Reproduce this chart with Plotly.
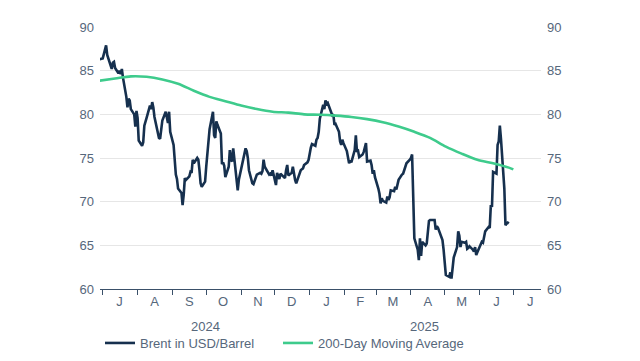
import pandas as pd
import plotly.graph_objects as go

# ---- Brent daily values (business days) ----
brent_jun24 = [86.3]
brent_jul24 = [86.4, 86.9, 87.5, 87.9, 86.8, 85.6, 85.2, 85.9, 86.0, 85.3, 84.7, 85.0, 84.6,
               85.2, 84.2, 82.0, 80.8, 81.8, 81.6, 80.6, 80.0, 78.6, 80.4]
brent_aug24 = [79.6, 77.0, 76.4, 76.8, 78.7, 79.3, 79.6, 81.0, 80.6, 81.4, 80.8, 79.7, 77.6,
               77.3, 77.2, 78.2, 79.3, 80.3, 79.4, 79.0, 80.3, 78.0]
brent_sep24 = [76.5, 74.0, 73.1, 72.6, 71.5, 71.0, 69.6, 70.8, 72.7, 72.5, 72.9, 73.4, 73.3,
               74.8, 74.4, 75.0, 74.8, 73.6, 72.1, 71.7, 72.3]
brent_oct24 = [74.0, 75.2, 77.0, 78.3, 80.3, 77.6, 77.3, 79.2, 78.8, 77.8, 74.3, 74.5, 74.1,
               72.8, 74.0, 75.9, 74.8, 74.6, 76.1, 72.0, 71.3, 72.5, 73.1]
brent_nov24 = [73.4, 75.3, 76.1, 75.8, 75.0, 73.6, 72.1, 72.0, 72.3, 72.6, 73.1, 73.3, 73.2,
               73.5, 74.8, 74.0, 73.3, 73.1, 73.2, 73.0, 73.6]
brent_dec24 = [71.9, 73.3, 73.0, 72.6, 73.2, 72.8, 72.7, 73.6, 74.2, 73.0, 73.3, 74.0, 73.1,
               72.5, 72.1, 73.4, 73.6, 73.7, 73.8, 74.2, 74.5, 74.8]
brent_jan25 = [75.7, 76.2, 76.6, 76.4, 77.1, 77.3, 78.0, 79.5, 81.1, 80.6, 81.6, 81.2, 81.3,
               80.4, 79.9, 80.0, 78.8, 78.9, 78.0, 76.9, 76.5, 77.1, 76.7]
brent_feb25 = [75.8, 75.0, 74.4, 74.7, 74.5, 75.9, 77.6, 75.7, 75.8, 75.1, 75.4, 75.7, 76.2,
               76.7, 74.6, 74.7, 74.2, 73.2, 73.6, 72.8]
brent_mar25 = [71.5, 70.9, 69.8, 70.4, 70.1, 69.9, 70.6, 70.2, 70.5, 71.3, 71.2, 71.7, 71.4,
               72.2, 72.5, 73.1, 73.2, 73.6, 74.0, 74.4, 74.8]
brent_apr25 = [75.0, 75.4, 70.5, 65.8, 64.5, 63.3, 65.8, 63.8, 65.4, 65.0, 65.2, 66.3, 67.8,
               67.9, 67.9, 67.9, 66.8, 67.2, 67.0, 66.0, 65.6, 64.5]
brent_may25 = [62.5, 61.6, 61.4, 61.9, 61.2, 62.5, 63.6, 64.8, 66.6, 66.1, 64.8, 65.4, 65.3,
               65.4, 64.6, 64.7, 64.9, 64.5, 64.3, 64.8, 63.9, 64.2]
brent_jun25 = [65.2, 65.4, 65.3, 65.8, 66.6, 67.1, 67.0, 69.6, 69.4, 73.4, 73.2, 76.5, 76.9,
               78.7, 77.2, 71.5, 67.3, 67.5, 67.6, 67.5]

# ---- 200-day moving average, read at fortnightly dates ----
ma_dates = ["2024-06-28", "2024-07-12", "2024-07-26", "2024-08-09", "2024-08-23", "2024-09-06",
            "2024-09-20", "2024-10-04", "2024-10-18", "2024-11-01", "2024-11-15", "2024-11-29",
            "2024-12-13", "2024-12-27", "2025-01-10", "2025-01-24", "2025-02-07", "2025-02-21",
            "2025-03-07", "2025-03-21", "2025-04-04", "2025-04-18", "2025-05-02", "2025-05-16",
            "2025-05-30", "2025-06-13", "2025-06-27", "2025-07-01"]
ma_values = [83.85, 84.1, 84.35, 84.3, 84.0, 83.5, 82.7, 82.0, 81.5, 81.0, 80.6, 80.3,
             80.2, 80.0, 79.95, 79.85, 79.7, 79.45, 79.1, 78.6, 78.0, 77.3, 76.3, 75.5,
             74.8, 74.4, 73.9, 73.7]

month_tick_dates = ["2024-07-16", "2024-08-16", "2024-09-16", "2024-10-16", "2024-11-16",
                    "2024-12-16", "2025-01-16", "2025-02-15", "2025-03-16", "2025-04-16",
                    "2025-05-16", "2025-06-16", "2025-07-16"]
month_labels = ["J", "A", "S", "O", "N", "D", "J", "F", "M", "A", "M", "J", "J"]
year_labels = ["2024", "2025"]
year_label_dates = ["2024-09-30", "2025-04-13"]

brent_values = (brent_jun24 + brent_jul24 + brent_aug24 + brent_sep24 + brent_oct24 +
                brent_nov24 + brent_dec24 + brent_jan25 + brent_feb25 + brent_mar25 +
                brent_apr25 + brent_may25 + brent_jun25)
brent_dates = pd.bdate_range("2024-06-28", periods=len(brent_values))

NAVY = "#16304e"
GREEN = "#3ecb8c"
TXT = "#56677b"
FONT = "Arial, Liberation Sans, sans-serif"

fig = go.Figure()
fig.add_trace(go.Scatter(x=brent_dates, y=brent_values, mode="lines", name="Brent in USD/Barrel",
                         line=dict(color=NAVY, width=2.6), legend="legend"))
fig.add_trace(go.Scatter(x=pd.to_datetime(ma_dates), y=ma_values, mode="lines",
                         name="200-Day Moving Average",
                         line=dict(color=GREEN, width=2.6, shape="spline", smoothing=0.8),
                         legend="legend2"))
# helper so that the right-hand axis is drawn
fig.add_trace(go.Scatter(x=[brent_dates[0]], y=[brent_values[0]], yaxis="y2", mode="markers",
                         marker=dict(opacity=0), showlegend=False, hoverinfo="skip"))

for lbl, d in zip(year_labels, year_label_dates):
    fig.add_annotation(x=d, y=-0.145, xref="x", yref="paper", text=lbl, showarrow=False,
                       font=dict(size=13, color=TXT, family=FONT), yanchor="middle")

legend_common = dict(orientation="h", xanchor="left", xref="paper",
                     yref="container", y=0.072, yanchor="middle",
                     font=dict(size=13, color=TXT, family=FONT), itemwidth=30,
                     bgcolor="rgba(0,0,0,0)")

fig.update_layout(
    width=640, height=361,
    margin=dict(l=92, r=107, t=19, b=80, autoexpand=False),
    paper_bgcolor="white", plot_bgcolor="white",
    font=dict(family=FONT, size=13, color=TXT),
    showlegend=True,
    legend=dict(x=0, **legend_common),
    legend2=dict(x=0.4036, **legend_common),
    xaxis=dict(type="date", range=["2024-06-28 14:00", "2025-07-25 14:00"],
               tickvals=month_tick_dates, ticktext=month_labels, ticks="", ticklen=0,
               showgrid=False, zeroline=False, showline=True, linecolor="#3a5069",
               linewidth=1, tickfont=dict(size=13, color=TXT),
               minor=dict(ticks="outside", ticklen=5, tickcolor="#3a5069", tickwidth=1,
                          dtick="M1", tick0="2024-07-01", showgrid=False)),
    yaxis=dict(range=[60, 90], dtick=5, tick0=60, showgrid=True, gridcolor="#e6e6e6",
               gridwidth=1, zeroline=False, showline=False, ticks="", ticklabelstandoff=5,
               tickfont=dict(size=13, color=TXT)),
    yaxis2=dict(range=[60, 90], dtick=5, tick0=60, overlaying="y", side="right",
                showgrid=False, zeroline=False, showline=False, ticks="",
                ticklabelstandoff=5, tickfont=dict(size=13, color=TXT)),
)

fig.write_html("out.html")
